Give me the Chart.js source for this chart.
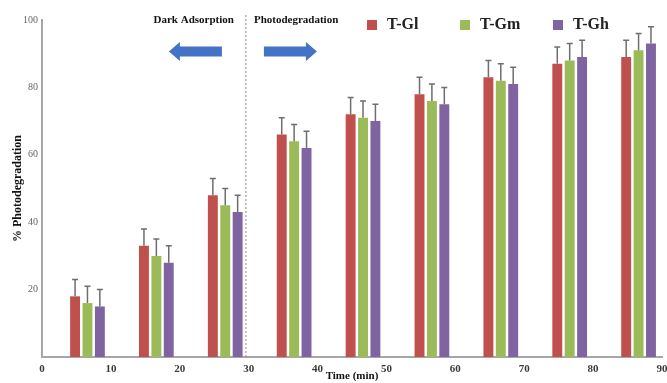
<!DOCTYPE html>
<html>
<head>
<meta charset="utf-8">
<script src="https://cdn.jsdelivr.net/npm/chart.js@4.4.0/dist/chart.umd.min.js"></script>
<style>
  html, body { margin: 0; padding: 0; background: #fff; }
  #wrap { width: 667px; height: 383px; }
</style>
</head>
<body>
<div id="wrap"><canvas id="chart"></canvas></div>
<script>
// time points (min) and % photodegradation per sample
var times = [10, 20, 30, 40, 50, 60, 70, 80, 90];
var tGl = [18, 33, 48, 66, 72, 78, 83, 87, 89];
var tGm = [16, 30, 45, 64, 71, 76, 82, 88, 91];
var tGh = [15, 28, 43, 62, 70, 75, 81, 89, 93];
var errGl = [5, 5, 5, 5, 5, 5, 5, 5, 5];
var errGm = [5, 5, 5, 5, 5, 5, 5, 5, 5];
var errGh = [5, 5, 5, 5, 5, 5, 5, 5, 5];
var yTicks = [20, 40, 60, 80, 100];
var splitTime = 33; // dark / light boundary on the bar axis

var serif = '"Liberation Serif", "Times New Roman", serif';

function pts (vals) {
  return times.map(function (t, i) { return { x: t, y: vals[i] }; });
}

var errorBars = {
  id: 'errorBars',
  afterDatasetsDraw: function (chart) {
    var ctx = chart.ctx;
    var y = chart.scales.y;
    ctx.save();
    ctx.strokeStyle = '#6e6e6e';
    ctx.lineWidth = 1.5;
    chart.data.datasets.forEach(function (ds, di) {
      var meta = chart.getDatasetMeta(di);
      meta.data.forEach(function (bar, i) {
        var top = y.getPixelForValue(ds.data[i].y + ds.errors[i]);
        ctx.beginPath();
        ctx.moveTo(bar.x, bar.y);
        ctx.lineTo(bar.x, top);
        ctx.moveTo(bar.x - 3, top);
        ctx.lineTo(bar.x + 3, top);
        ctx.stroke();
      });
    });
    ctx.restore();
  }
};

var annotations = {
  id: 'annotations',
  afterDraw: function (chart) {
    var ctx = chart.ctx;
    var area = chart.chartArea;
    var sx = chart.scales.xb.getPixelForValue(splitTime);
    ctx.save();
    // divider
    ctx.strokeStyle = '#8a8a8a';
    ctx.lineWidth = 1;
    ctx.setLineDash([2, 2]);
    ctx.beginPath();
    ctx.moveTo(sx, 15);
    ctx.lineTo(sx, area.bottom);
    ctx.stroke();
    ctx.setLineDash([]);

    // phase labels
    ctx.fillStyle = '#111';
    ctx.font = 'bold 11px ' + serif;
    ctx.textBaseline = 'middle';
    ctx.textAlign = 'right';
    ctx.fillText('Dark Adsorption', sx - 12, 20);
    ctx.textAlign = 'left';
    ctx.fillText('Photodegradation', sx + 8, 20);

    // arrows
    ctx.fillStyle = '#4472c4';
    function arrow (tail, tip) {
      var dir = tip > tail ? 1 : -1;
      var neck = tip - dir * 11;
      var cy = 51.5;
      ctx.beginPath();
      ctx.moveTo(tail, cy - 5);
      ctx.lineTo(neck, cy - 5);
      ctx.lineTo(neck, cy - 9.5);
      ctx.lineTo(tip, cy);
      ctx.lineTo(neck, cy + 9.5);
      ctx.lineTo(neck, cy + 5);
      ctx.lineTo(tail, cy + 5);
      ctx.closePath();
      ctx.fill();
    }
    arrow(sx - 24, sx - 77);
    arrow(sx + 18, sx + 71);

    // legend
    var lx = 367;
    chart.data.datasets.forEach(function (ds) {
      ctx.fillStyle = ds.backgroundColor;
      ctx.fillRect(lx, 20, 10, 10);
      ctx.fillStyle = '#222';
      ctx.font = 'bold 16px ' + serif;
      ctx.textAlign = 'left';
      ctx.fillText(ds.label, lx + 20, 25);
      lx += 93;
    });
    ctx.restore();
  }
};

var data = {
  datasets: [
    { label: 'T-Gl', data: pts(tGl), errors: errGl, backgroundColor: '#c0504d', xAxisID: 'xb' },
    { label: 'T-Gm', data: pts(tGm), errors: errGm, backgroundColor: '#9bbb59', xAxisID: 'xb' },
    { label: 'T-Gh', data: pts(tGh), errors: errGh, backgroundColor: '#8064a2', xAxisID: 'xb' }
  ]
};

var options = {
  responsive: true,
  maintainAspectRatio: false,
  animation: false,
  layout: { padding: { top: 20, right: 5, left: 0, bottom: 0 } },
  categoryPercentage: 0.54,
  barPercentage: 0.8,
  plugins: { legend: { display: false }, tooltip: { enabled: false } },
  scales: {
    x: {
      type: 'linear',
      min: 0,
      max: 90,
      offset: false,
      grid: { display: false, drawTicks: false },
      border: { color: '#a6a6a6', width: 2 },
      ticks: {
        stepSize: 10,
        padding: 6,
        color: '#3a3a3a',
        font: { family: serif, size: 11, weight: 'bold' }
      },
      title: {
        display: true,
        text: 'Time (min)',
        color: '#111',
        padding: 0,
        font: { family: serif, size: 11, weight: 'bold' }
      },
      afterFit: function (s) {
        s.height = 26;
        s.paddingLeft = 0;
        s.paddingRight = 0;
      }
    },
    xb: {
      type: 'linear',
      display: false,
      min: 3.4,
      max: 93.4,
      offset: false,
      afterBuildTicks: function (s) {
        s.ticks = times.map(function (v) { return { value: v }; });
      }
    },
    y: {
      min: 0,
      max: 100,
      grid: { display: false, drawTicks: false },
      border: { color: '#a6a6a6', width: 2 },
      afterBuildTicks: function (s) {
        s.ticks = yTicks.map(function (v) { return { value: v }; });
      },
      ticks: {
        padding: 4,
        color: '#666',
        font: { family: serif, size: 10 }
      },
      title: {
        display: true,
        text: '% Photodegradation',
        color: '#111',
        padding: { top: 11, bottom: 0 },
        font: { family: serif, size: 12, weight: 'bold' }
      },
      afterFit: function (s) { s.width = 42; }
    }
  }
};

new Chart(document.getElementById('chart'), {
  type: 'bar',
  data: data,
  options: options,
  plugins: [errorBars, annotations]
});
</script>
</body>
</html>
